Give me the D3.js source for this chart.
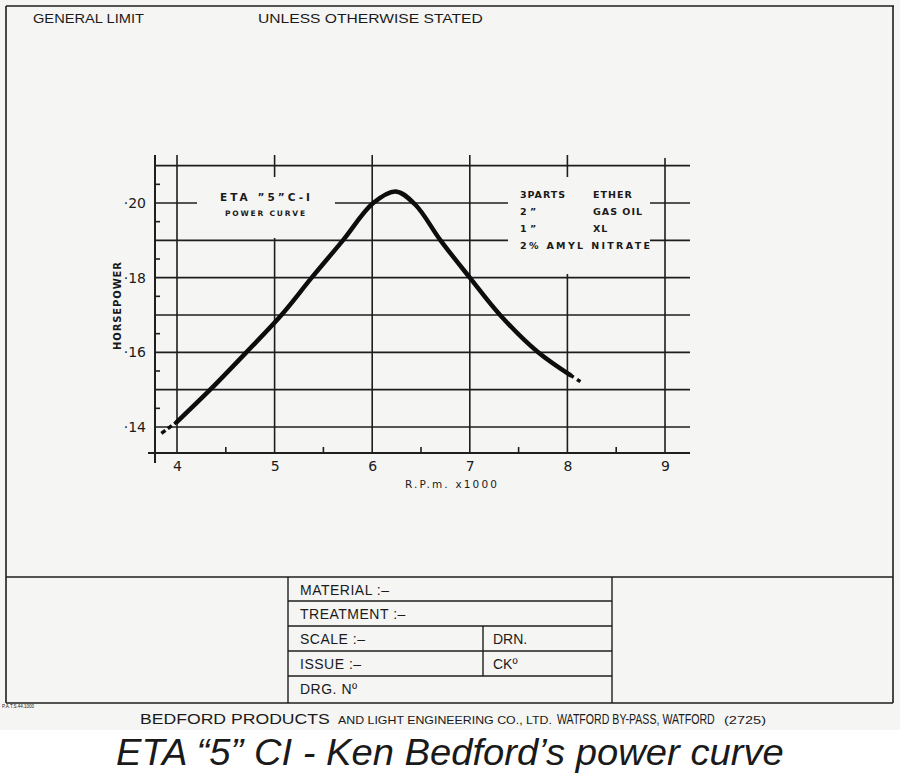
<!DOCTYPE html>
<html>
<head>
<meta charset="utf-8">
<script src="https://cdn.jsdelivr.net/npm/d3@7"></script>
<style>
  body { margin: 0; background: #fff; }
  svg text { fill: #1a1a1a; }
</style>
</head>
<body>
<svg id="chart" width="900" height="778"></svg>
<script>
// power curve (rpm x1000, horsepower)
var rpm = [3.84, 4.0, 4.34, 4.71, 5.07, 5.38, 5.70, 6.01, 6.24, 6.44, 6.70, 7.00, 7.31, 7.70, 8.03, 8.16];
var hp  = [0.1383, 0.1414, 0.150, 0.160, 0.170, 0.180, 0.190, 0.200, 0.2031, 0.1996, 0.190, 0.180, 0.170, 0.160, 0.1539, 0.1517];
var xTicks = [4, 5, 6, 7, 8, 9];
var xMinor = [4.5, 5.5, 6.5, 7.5, 8.5];
var yGrid = [0.14, 0.15, 0.16, 0.17, 0.18, 0.19, 0.20, 0.21];
var yLabels = [0.14, 0.16, 0.18, 0.20];
var yMinor = [0.145, 0.155, 0.165, 0.175, 0.185, 0.195, 0.205];
var mixLeft = ["3PARTS", "2   \u201D", "1   \u201D", "2% AMYL NITRATE"];
var mixRight = ["ETHER", "GAS OIL", "XL", ""];
var blockRows = ["MATERIAL :\u2013", "TREATMENT :\u2013", "SCALE :\u2013", "ISSUE :\u2013", "DRG. N\u00BA"];

var svg = d3.select('#chart');
var ink = '#1e1e1e';
var paper = '#f5f5f4';
var hand = '"DejaVu Sans", sans-serif';
var print = '"Liberation Sans", sans-serif';
var narrow = '"Liberation Sans Narrow", "Liberation Sans", sans-serif';

// squeeze/stretch a text horizontally to a given width (keeps the bbox honest)
function fit(sel, x0, width)
{
    var w = sel.node().getComputedTextLength();
    var k = width / w;
    sel.attr('transform', 'translate(' + x0 + ',0) scale(' + k + ',1) translate(' + (-x0) + ',0)');
    return sel;
}

// paper
svg.append('rect').attr('x', 0).attr('y', 0).attr('width', 900).attr('height', 730).attr('fill', paper);
svg.append('rect').attr('x', 0).attr('y', 730).attr('width', 900).attr('height', 48).attr('fill', '#fff');

// sheet border
var border = svg.append('g').attr('stroke', ink).attr('stroke-width', 1.6).attr('fill', 'none');
border.append('line').attr('x1', 6).attr('y1', 6).attr('x2', 894).attr('y2', 6);
border.append('line').attr('x1', 6).attr('y1', 6).attr('x2', 6).attr('y2', 703);
border.append('line').attr('x1', 893).attr('y1', 6).attr('x2', 893).attr('y2', 703);
border.append('line').attr('x1', 6).attr('y1', 577).attr('x2', 893).attr('y2', 577);
border.append('line').attr('x1', 6).attr('y1', 703).attr('x2', 893).attr('y2', 703);

fit(svg.append('text').attr('x', 33).attr('y', 23).attr('font-family', print).attr('font-size', 12.5)
    .text('GENERAL LIMIT'), 33, 111);
fit(svg.append('text').attr('x', 258).attr('y', 23).attr('font-family', print).attr('font-size', 12.5)
    .text('UNLESS OTHERWISE STATED'), 258, 225);

// scales
var x = d3.scaleLinear().domain([4, 9]).range([177, 665]);
var y = d3.scaleLinear().domain([0.14, 0.20]).range([427, 203]);
var gTop = 155, gBottom = 453, gLeft = 155, gRight = 690;

var grid = svg.append('g').attr('stroke', ink).attr('stroke-width', 1.6);
grid.selectAll('line.h').data(yGrid).enter().append('line')
    .attr('class', 'h')
    .attr('x1', gLeft).attr('x2', gRight)
    .attr('y1', function(d) { return y(d); })
    .attr('y2', function(d) { return y(d); });
grid.selectAll('line.v').data(xTicks).enter().append('line')
    .attr('class', 'v')
    .attr('x1', function(d) { return x(d); })
    .attr('x2', function(d) { return x(d); })
    .attr('y1', function(d) { return d == 9 ? gTop + 3 : gTop; })
    .attr('y2', gBottom);
// minor ticks
grid.selectAll('line.xm').data(xMinor).enter().append('line')
    .attr('x1', function(d) { return x(d); })
    .attr('x2', function(d) { return x(d); })
    .attr('y1', gBottom - 6).attr('y2', gBottom);
grid.selectAll('line.ym').data(yMinor).enter().append('line')
    .attr('x1', gLeft).attr('x2', gLeft + 5)
    .attr('y1', function(d) { return y(d); })
    .attr('y2', function(d) { return y(d); });

// axes
grid.append('line').attr('x1', gLeft).attr('x2', gLeft).attr('y1', gTop).attr('y2', gBottom + 10).attr('stroke-width', 2);
grid.append('line').attr('x1', gLeft - 7).attr('x2', gRight).attr('y1', gBottom).attr('y2', gBottom).attr('stroke-width', 2);

// blank out grid behind the hand lettering
svg.append('rect').attr('x', 197).attr('y', 177).attr('width', 138).attr('height', 61).attr('fill', paper);
svg.append('rect').attr('x', 508).attr('y', 177).attr('width', 142).attr('height', 97).attr('fill', paper);

// tick labels
var xAxis = d3.axisBottom(x).tickValues(xTicks).tickSize(0).tickPadding(0).tickFormat(d3.format('d'));
var gx = svg.append('g').attr('transform', 'translate(0,' + (gBottom + 8) + ')').call(xAxis);
gx.select('.domain').remove();
gx.selectAll('text').attr('font-family', hand).attr('font-size', 14).attr('fill', ink);

var yAxis = d3.axisLeft(y).tickValues(yLabels).tickSize(0).tickPadding(0)
    .tickFormat(function(d) { return '\u00B7' + Math.round(d * 100); });
var gy = svg.append('g').attr('transform', 'translate(' + (gLeft - 9) + ',0)').call(yAxis);
gy.select('.domain').remove();
gy.selectAll('text').attr('font-family', hand).attr('font-size', 14).attr('fill', ink);

svg.append('text').attr('x', 405).attr('y', 488).attr('font-family', hand).attr('font-size', 10.5)
    .attr('textLength', 92).attr('lengthAdjust', 'spacing').text('R.P.m. x1000');
svg.append('text').attr('transform', 'translate(121,306) rotate(-90)').attr('text-anchor', 'middle')
    .attr('font-family', hand).attr('font-size', 10).attr('font-weight', 'bold')
    .attr('textLength', 88).attr('lengthAdjust', 'spacing').text('HORSEPOWER');

// annotations
svg.append('text').attr('x', 220).attr('y', 201).attr('font-family', hand)
    .attr('font-size', 10.5).attr('font-weight', 'bold')
    .attr('textLength', 90).attr('lengthAdjust', 'spacing').text('ETA \u201D5\u201DC-I');
svg.append('text').attr('x', 225).attr('y', 216).attr('font-family', hand)
    .attr('font-size', 7.5).attr('font-weight', 'bold')
    .attr('textLength', 80).attr('lengthAdjust', 'spacing').text('POWER CURVE');

var mix = svg.append('g').attr('font-family', hand).attr('font-size', 9.5).attr('font-weight', 'bold');
mixLeft.forEach(function(t, i) {
    var el = mix.append('text').attr('x', 520).attr('y', 198 + i * 17).text(t);
    if (i == 0) el.attr('textLength', 45).attr('lengthAdjust', 'spacing');
    if (i == 3) el.attr('textLength', 130).attr('lengthAdjust', 'spacing');
});
mixRight.forEach(function(t, i) {
    if (t) mix.append('text').attr('x', 593).attr('y', 198 + i * 17).attr('letter-spacing', 1).text(t);
});

// the curve: solid middle, dashed ends
var line = d3.line()
    .x(function(d) { return x(d[0]); })
    .y(function(d) { return y(d[1]); })
    .curve(d3.curveCatmullRom.alpha(0.5));
var pts = rpm.map(function(r, i) { return [r, hp[i]]; });
svg.append('path').datum(pts.slice(1, pts.length - 1)).attr('d', line)
    .attr('fill', 'none').attr('stroke', '#0d0d0d').attr('stroke-width', 4.5).attr('stroke-linecap', 'round');
svg.append('path').datum(pts.slice(0, 2)).attr('d', line)
    .attr('fill', 'none').attr('stroke', '#0d0d0d').attr('stroke-width', 3.5).attr('stroke-dasharray', '5,3');
svg.append('path').datum(pts.slice(pts.length - 2)).attr('d', line)
    .attr('fill', 'none').attr('stroke', '#0d0d0d').attr('stroke-width', 3.5).attr('stroke-dasharray', '4,4');

// title block
var tb = svg.append('g').attr('stroke', ink).attr('stroke-width', 1.4).attr('fill', 'none');
var rowY = [577, 601, 626, 651, 676, 703];
tb.append('line').attr('x1', 288).attr('x2', 288).attr('y1', 577).attr('y2', 703);
tb.append('line').attr('x1', 612).attr('x2', 612).attr('y1', 577).attr('y2', 703);
tb.append('line').attr('x1', 483).attr('x2', 483).attr('y1', 626).attr('y2', 676);
rowY.slice(1, 5).forEach(function(v) {
    tb.append('line').attr('x1', 288).attr('x2', 612).attr('y1', v).attr('y2', v);
});
blockRows.forEach(function(t, i) {
    svg.append('text').attr('x', 300).attr('y', rowY[i] + 18).attr('font-family', narrow).attr('font-size', 14)
        .attr('letter-spacing', 0.5).text(t);
});
svg.append('text').attr('x', 493).attr('y', 644).attr('font-family', narrow).attr('font-size', 14).text('DRN.');
svg.append('text').attr('x', 493).attr('y', 669).attr('font-family', narrow).attr('font-size', 14).text('CK\u00BA');
svg.append('text').attr('x', 2).attr('y', 708).attr('font-family', narrow).attr('font-size', 4.5).text('P.A.T.S.44.1000');

// footer
var foot = svg.append('g').attr('font-family', narrow);
fit(foot.append('text').attr('x', 140).attr('y', 724).attr('font-size', 14.5).text('BEDFORD  PRODUCTS'), 140, 190);
fit(foot.append('text').attr('x', 338).attr('y', 724).attr('font-size', 10.5).text('AND LIGHT ENGINEERING CO., LTD.'), 338, 214);
fit(foot.append('text').attr('x', 557).attr('y', 724).attr('font-size', 14.5).text('WATFORD BY-PASS, WATFORD'), 557, 158);
fit(foot.append('text').attr('x', 724).attr('y', 724).attr('font-size', 10).text('(2725)'), 724, 42);

fit(svg.append('text').attr('x', 116).attr('y', 765)
    .attr('font-family', '"Liberation Sans", Arial, sans-serif').attr('font-style', 'italic').attr('font-size', 37)
    .text('ETA \u201C5\u201D CI - Ken Bedford\u2019s power curve'), 116, 668);
</script>
</body>
</html>
